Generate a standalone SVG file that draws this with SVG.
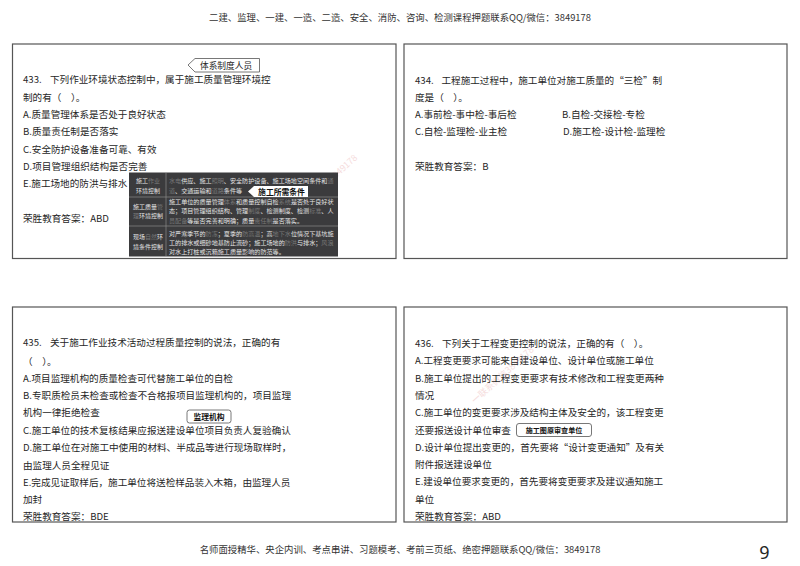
<svg xmlns="http://www.w3.org/2000/svg" width="800" height="566" viewBox="0 0 800 566">
<style>
text{font-family:"Noto Sans CJK SC","Noto Sans",sans-serif;fill:#262626}
.h{font-size:9.4px;fill:#333;text-anchor:middle}
.t{font-size:9.6px}
.box{fill:#fff;stroke:#555;stroke-width:1.2}
.p{font-size:6.1px;fill:#e4e4e4}
.c{font-size:6px;fill:#e4e4e4;text-anchor:middle}
.d{fill:#777}
.tag{fill:#fff;stroke:#555;stroke-width:.8}
.tb{font-size:7.8px;font-weight:700;text-anchor:middle;fill:#111}
.wm{font-size:9px;fill:#e9a9a9;opacity:.4}
</style>
<rect width="800" height="566" fill="#fff"/>
<text class="h" x="400" y="21">二建、监理、一建、一造、二造、安全、消防、咨询、检测课程押题联系QQ/微信&#xFF1A;3849178</text>

<g id="q433">
<rect class="box" x="12.5" y="44" width="383.5" height="214.5"/>
<text class="t" x="23" y="83">433.<tspan x="50">下列作业环境状态控制中&#xFF0C;属于施工质量管理环境控</tspan></text>
<text class="t" x="23" y="100.5">制的有&#xFF08;&#x3000;&#xFF09;&#x3002;</text>
<text class="t" x="23" y="118">A.质量管理体系是否处于良好状态</text>
<text class="t" x="23" y="135">B.质量责任制是否落实</text>
<text class="t" x="23" y="152.5">C.安全防护设备准备可靠、有效</text>
<text class="t" x="23" y="170">D.项目管理组织结构是否完善</text>
<text class="t" x="23" y="187">E.施工场地的防洪与排水</text>
<text class="t" x="23" y="222">荣胜教育答案&#xFF1A;ABD</text>
<text class="wm" transform="translate(332,182) rotate(-42)">3849178</text>
</g>

<g id="tag-tixi">
<path class="tag" d="M188,65 L195,58.5 H259.5 V72 H195 Z"/>
<text x="226" y="69" style="font-size:8.7px;text-anchor:middle">体系制度人员</text>
</g>

<g id="panel">
<rect x="129" y="172.5" width="209" height="84" fill="#3b3b3d"/>
<path d="M166 173V256M129 197H338M129 226H338" stroke="#8a8a8a" stroke-width=".7" fill="none"/>
<text class="c" x="148" y="183">施工<tspan class="d">作业</tspan></text>
<text class="c" x="148" y="192.5">环境控制</text>
<text class="p" x="169" y="183"><tspan class="d">水电</tspan>供应、施工<tspan class="d">照明</tspan>、安全防护设备、施工场地空间条件和<tspan class="d">通</tspan></text>
<text class="p" x="169" y="192.5"><tspan class="d">道</tspan>、交通运输和<tspan class="d">道路</tspan>条件等</text>
<text class="c" x="148" y="208.5">施工质量<tspan class="d">管</tspan></text>
<text class="c" x="148" y="217.5"><tspan class="d">理</tspan>环境控制</text>
<text class="p" x="169" y="204">施工单位的质量管理<tspan class="d">体系</tspan>和质量控制自检<tspan class="d">系统</tspan>是否处于良好状</text>
<text class="p" x="169" y="213">态&#xFF1B;项目管理组织结构、管理<tspan class="d">制度</tspan>、检测制度、检测<tspan class="d">标准</tspan>、人</text>
<text class="p" x="169" y="222.5"><tspan class="d">员配备</tspan>等是否完善和明确&#xFF1B;质量<tspan class="d">责任制</tspan>是否落实。</text>
<text class="c" x="148" y="239">现场<tspan class="d">自然</tspan>环</text>
<text class="c" x="148" y="249">境条件控制</text>
<text class="p" x="169" y="235.5">对严寒季节的<tspan class="d">防冻</tspan>&#xFF1B;夏季的<tspan class="d">防高温</tspan>&#xFF1B;高<tspan class="d">地下水</tspan>位情况下基坑施</text>
<text class="p" x="169" y="244.5">工的排水或细砂地基防止流砂&#xFF1B;施工场地的<tspan class="d">防洪</tspan>与排水&#xFF1B;<tspan class="d">风浪</tspan></text>
<text class="p" x="169" y="253.5">对水上打桩或沉箱施工质量影响的防范等。</text>
</g>

<g id="tag-tiaojian">
<path d="M248,191.5 L254,186 H308 V197 H254 Z" fill="#fff"/>
<text class="tb" x="281.5" y="194.8">施工所需条件</text>
</g>

<g id="q434">
<rect class="box" x="404" y="44" width="383" height="214.5"/>
<text class="t" x="415" y="83.5">434.<tspan x="441.5">工程施工过程中&#xFF0C;施工单位对施工质量的“三检”制</tspan></text>
<text class="t" x="415" y="101">度是&#xFF08;&#x3000;&#xFF09;&#x3002;</text>
<text class="t" x="415" y="118">A.事前检-事中检-事后检</text>
<text class="t" x="562" y="118">B.自检-交接检-专检</text>
<text class="t" x="415" y="135">C.自检-监理检-业主检</text>
<text class="t" x="563" y="135">D.施工检-设计检-监理检</text>
<text class="t" x="415" y="170">荣胜教育答案&#xFF1A;B</text>
</g>

<g id="q435">
<rect class="box" x="12.5" y="307" width="383.5" height="215"/>
<text class="t" x="23" y="346">435.<tspan x="50">关于施工作业技术活动过程质量控制的说法&#xFF0C;正确的有</tspan></text>
<text class="t" x="23" y="364.5">&#xFF08;&#x3000;&#xFF09;&#x3002;</text>
<text class="t" x="23" y="381.5">A.项目监理机构的质量检查可代替施工单位的自检</text>
<text class="t" x="23" y="399">B.专职质检员未检查或检查不合格报项目监理机构的&#xFF0C;项目监理</text>
<text class="t" x="23" y="416">机构一律拒绝检查</text>
<text class="t" x="23" y="433.5">C.施工单位的技术复核结果应报送建设单位项目负责人复验确认</text>
<text class="t" x="23" y="450.5">D.施工单位在对施工中使用的材料、半成品等进行现场取样时&#xFF0C;</text>
<text class="t" x="23" y="468.5">由监理人员全程见证</text>
<text class="t" x="23" y="485.5">E.完成见证取样后&#xFF0C;施工单位将送检样品装入木箱&#xFF0C;由监理人员</text>
<text class="t" x="23" y="503">加封</text>
<text class="t" x="23" y="520">荣胜教育答案&#xFF1A;BDE</text>
</g>

<g id="tag-jianli">
<rect class="tag" x="187" y="410" width="44" height="13" rx="2.5"/>
<text class="tb" x="209" y="419.6">监理机构</text>
</g>

<g id="q436">
<rect class="box" x="404" y="307" width="383" height="215"/>
<text class="wm" transform="translate(475,404) rotate(-42)">一联系微信3849178</text>
<text class="t" x="415" y="347">436.<tspan x="442">下列关于工程变更控制的说法&#xFF0C;正确的有&#xFF08;&#x3000;&#xFF09;&#x3002;</tspan></text>
<text class="t" x="415" y="364">A.工程变更要求可能来自建设单位、设计单位或施工单位</text>
<text class="t" x="415" y="381.5">B.施工单位提出的工程变更要求有技术修改和工程变更两种</text>
<text class="t" x="415" y="398.5">情况</text>
<text class="t" x="415" y="416">C.施工单位的变更要求涉及结构主体及安全的&#xFF0C;该工程变更</text>
<text class="t" x="415" y="433.5">还要报送设计单位审查</text>
<text class="t" x="415" y="450.5">D.设计单位提出变更的&#xFF0C;首先要将“设计变更通知”及有关</text>
<text class="t" x="415" y="468">附件报送建设单位</text>
<text class="t" x="415" y="485">E.建设单位要求变更的&#xFF0C;首先要将变更要求及建议通知施工</text>
<text class="t" x="415" y="503">单位</text>
<text class="t" x="415" y="520">荣胜教育答案&#xFF1A;ABD</text>
</g>

<g id="tag-tuzhi">
<rect class="tag" x="516.5" y="423.5" width="75" height="13" rx="2.5"/>
<text class="tb" x="554" y="433" style="font-size:7.1px">施工图原审查单位</text>
</g>

<g id="connectors"></g>

<text class="h" x="400" y="553">名师面授精华、央企内训、考点串讲、习题模考、考前三页纸、绝密押题联系QQ/微信&#xFF1A;3849178</text>
<text x="764.5" y="559" style="font-size:18px;font-family:'Noto Sans',sans-serif;text-anchor:middle">9</text>
</svg>
